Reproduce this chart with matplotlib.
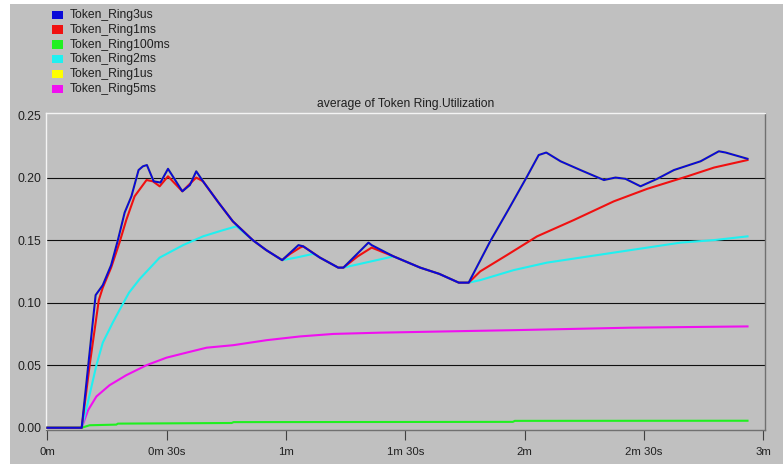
import matplotlib.pyplot as plt
from matplotlib.patches import Rectangle

# time in seconds, utilization values per run
ring3us_t = [0, 8.6, 12.1, 13.9, 16.0, 17.7, 19.4, 21.1, 22.9, 24.0, 25.0, 26.7, 28.4, 30.3, 33.9,
             35.8, 37.4, 39.1, 43.0, 46.6, 51.6, 55.0, 59.0, 63.1, 64.3, 68.5, 73.1, 74.4, 80.7,
             81.5, 87.0, 93.7, 98.5, 103.4, 105.9, 111.3, 116.0, 120.6, 123.5, 125.4, 129.0,
             134.0, 139.9, 142.8, 145.3, 149.1, 153.3, 157.5, 164.2, 168.8, 170.5, 176.0]
ring3us_v = [0, 0, 0.106, 0.114, 0.130, 0.150, 0.172, 0.185, 0.206, 0.209, 0.210, 0.197, 0.196,
             0.207, 0.189, 0.194, 0.205, 0.197, 0.180, 0.165, 0.150, 0.142, 0.134, 0.146, 0.145,
             0.136, 0.128, 0.128, 0.148, 0.146, 0.137, 0.128, 0.123, 0.116, 0.116, 0.149, 0.175,
             0.201, 0.218, 0.220, 0.213, 0.206, 0.198, 0.200, 0.199, 0.193, 0.199, 0.206, 0.213,
             0.221, 0.220, 0.215]

ring1ms_t = [0, 8.6, 10.6, 12.9, 13.9, 16.0, 18.1, 19.8, 21.9, 24.9, 26.5, 28.2, 30.3, 33.9, 37.4,
             39.1, 43.0, 46.6, 51.6, 55.0, 59.0, 61.0, 63.5, 64.3, 68.5, 73.1, 74.4, 78.0, 81.5,
             87.0, 93.7, 98.5, 103.4, 105.9, 108.8, 115.5, 123.1, 132.3, 142.4, 150.8, 160.9,
             167.6, 176.0]
ring1ms_v = [0, 0, 0.05, 0.102, 0.112, 0.128, 0.148, 0.166, 0.185, 0.198, 0.197, 0.193, 0.201,
             0.189, 0.200, 0.197, 0.180, 0.165, 0.150, 0.142, 0.134, 0.139, 0.144, 0.145, 0.136,
             0.128, 0.128, 0.137, 0.144, 0.137, 0.128, 0.123, 0.116, 0.116, 0.125, 0.138, 0.153,
             0.166, 0.181, 0.191, 0.201, 0.208, 0.214]

ring100ms_t = [0, 8.6, 10.6, 17.3, 17.7, 46.3, 46.8, 117.0, 117.5, 176.0]
ring100ms_v = [0, 0, 0.002, 0.0025, 0.0033, 0.0038, 0.0045, 0.0047, 0.0055, 0.0056]

ring2ms_t = [0, 8.6, 10.2, 12.3, 13.9, 16.4, 18.6, 20.5, 23.2, 28.2, 34.1, 39.1, 44.2, 47.5,
             51.6, 55.0, 59.0, 62.5, 66.8, 68.5, 73.1, 74.4, 80.0, 87.0, 93.7, 98.5, 103.4,
             105.9, 108.8, 117.2, 125.6, 134.0, 142.4, 150.8, 159.2, 167.6, 176.0]
ring2ms_v = [0, 0, 0.021, 0.050, 0.068, 0.084, 0.097, 0.108, 0.119, 0.136, 0.146, 0.153, 0.158,
             0.161, 0.150, 0.142, 0.134, 0.136, 0.139, 0.136, 0.128, 0.128, 0.132, 0.137, 0.128,
             0.123, 0.116, 0.116, 0.118, 0.126, 0.132, 0.136, 0.140, 0.144, 0.148, 0.150, 0.153]

# 1us run is identical to 3us and sits under it
ring1us_t = ring3us_t
ring1us_v = ring3us_v

ring5ms_t = [0, 8.6, 10.2, 12.3, 15.6, 19.8, 24.9, 29.9, 34.9, 40.0, 46.7, 55.1, 63.5, 71.9,
             83.6, 100.0, 117.2, 146.6, 176.0]
ring5ms_v = [0, 0, 0.014, 0.025, 0.034, 0.042, 0.050, 0.056, 0.060, 0.064, 0.066, 0.070, 0.073,
             0.075, 0.076, 0.077, 0.078, 0.080, 0.081]

names = ["Token_Ring3us", "Token_Ring1ms", "Token_Ring100ms", "Token_Ring2ms",
         "Token_Ring1us", "Token_Ring5ms"]
series = [(ring3us_t, ring3us_v), (ring1ms_t, ring1ms_v), (ring100ms_t, ring100ms_v),
          (ring2ms_t, ring2ms_v), (ring1us_t, ring1us_v), (ring5ms_t, ring5ms_v)]
colors = ["#0a0ad8", "#f01010", "#20f020", "#20f0f0", "#ffff00", "#f010f0"]

xticks = [0, 30, 60, 90, 120, 150, 180]
xlabels = ["0m", "0m 30s", "1m", "1m 30s", "2m", "2m 30s", "3m"]
yticks = [0.00, 0.05, 0.10, 0.15, 0.20, 0.25]
gridvals = [0.05, 0.10, 0.15, 0.20]

plt.rcParams['font.family'] = ['Liberation Sans', 'DejaVu Sans']
W, H = 783, 466
bg = "#c0c0c0"
fig = plt.figure(figsize=(W / 100, H / 100), dpi=100, facecolor="white")
fig.patches.append(Rectangle((10 / W, 2 / H), 1, (462 - 2) / H, transform=fig.transFigure,
                             facecolor=bg, edgecolor="none", zorder=-5))

ax = fig.add_axes([45.5 / W, (H - 430) / H, (765 - 45.5) / W, (430 - 113) / H])
ax.set_facecolor(bg)

for v in gridvals:
    ax.axhline(v, color="#101010", lw=0.8, zorder=1)

# draw last series first so 3us ends up on top
for (t, v), c in list(zip(series, colors))[::-1]:
    ax.plot(t, v, color=c, lw=1.5, zorder=3)

ax.set_xlim(-0.5, 180.4)
ax.set_ylim(-0.0018, 0.2516)
ax.set_xticks(xticks)
ax.set_xticklabels(xlabels)
ax.set_yticks(yticks)
ax.set_yticklabels(["%.2f" % y for y in yticks])
ax.tick_params(axis="x", direction="out", length=7.2, width=0.8, color="#404040",
               labelsize=8.2, labelcolor="#202020", pad=5)
ax.tick_params(axis="y", length=0, labelsize=8.7, labelcolor="#202020", pad=3)

for side in ["left", "top"]:
    ax.spines[side].set_color("#f4f4f4")
    ax.spines[side].set_linewidth(1.0)
for side in ["right", "bottom"]:
    ax.spines[side].set_color("#707070")
    ax.spines[side].set_linewidth(1.0)

ax.set_title("average of Token Ring.Utilization", fontsize=8.7, color="#202020", pad=4)

# legend block in the top left corner
for i, (name, c) in enumerate(zip(names, colors)):
    yc = 15 + i * 14.8
    fig.patches.append(Rectangle((51.7 / W, (H - yc - 4) / H), 11 / W, 8.5 / H,
                                 transform=fig.transFigure, facecolor=c, edgecolor="none"))
    fig.text(70 / W, (H - yc) / H, name, fontsize=8.7, color="#202020", va="center", ha="left")

fig.savefig("out.png", dpi=100, facecolor="white")
